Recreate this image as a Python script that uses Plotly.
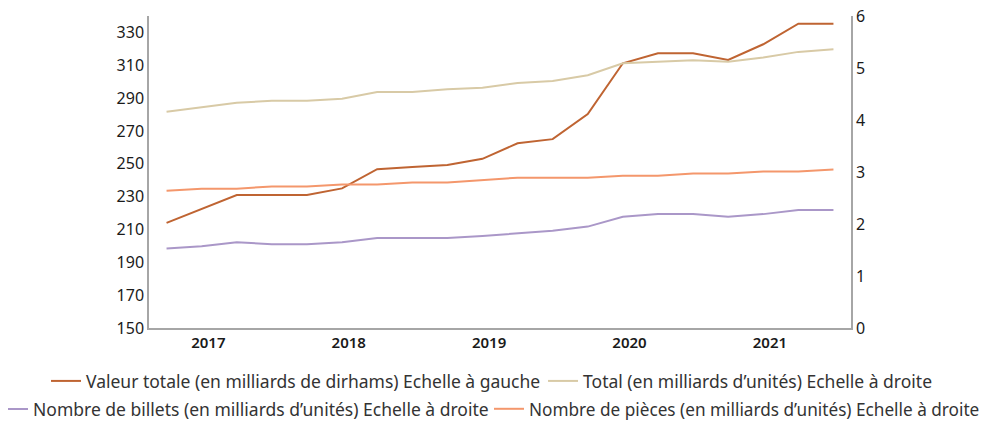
import plotly.graph_objects as go

quarters = ["T4 2016", "T1 2017", "T2 2017", "T3 2017", "T4 2017",
            "T1 2018", "T2 2018", "T3 2018", "T4 2018",
            "T1 2019", "T2 2019", "T3 2019", "T4 2019",
            "T1 2020", "T2 2020", "T3 2020", "T4 2020",
            "T1 2021", "T2 2021", "T3 2021"]

valeur_totale = [214, 222.5, 231, 231, 231, 235, 246.7, 248, 249.3, 253,
                 262.5, 265, 280.3, 311.2, 317.3, 317.3, 313.2, 322.8, 335.3, 335.3]
total = [4.16, 4.25, 4.33, 4.37, 4.37, 4.41, 4.54, 4.54, 4.59, 4.62,
         4.71, 4.75, 4.86, 5.09, 5.12, 5.15, 5.12, 5.20, 5.31, 5.36]
billets = [1.53, 1.57, 1.65, 1.61, 1.61, 1.65, 1.73, 1.73, 1.73, 1.77,
           1.82, 1.87, 1.95, 2.14, 2.19, 2.19, 2.14, 2.19, 2.27, 2.27]
pieces = [2.64, 2.68, 2.68, 2.72, 2.72, 2.76, 2.76, 2.80, 2.80, 2.85,
          2.89, 2.89, 2.89, 2.93, 2.93, 2.97, 2.97, 3.01, 3.01, 3.05]

years = ["2017", "2018", "2019", "2020", "2021"]

x = list(range(len(quarters)))
# year labels sit a little after the first quarter of each year
year_pos = [quarters.index("T1 " + y) + 0.19 for y in years]

FONT = "Noto Sans"
AXIS_COLOR = "#A6A6A6"

series = [
    ("Valeur totale (en milliards de dirhams) Echelle à gauche", valeur_totale, "y", "#BF6432", "legend"),
    ("Total (en milliards d\u2019unités) Echelle à droite", total, "y2", "#D8CAA6", "legend2"),
    ("Nombre de billets (en milliards d\u2019unités) Echelle à droite", billets, "y2", "#AA97C8", "legend3"),
    ("Nombre de pièces (en milliards d\u2019unités) Echelle à droite", pieces, "y2", "#F4976C", "legend4"),
]

fig = go.Figure()
for name, vals, yax, color, leg in series:
    fig.add_trace(go.Scatter(
        x=x, y=vals, mode="lines", yaxis=yax, name=name,
        line=dict(color=color, width=2), legend=leg, showlegend=True
    ))


def legend_box(xp, yp, size=17.5):
    return dict(
        orientation="h", x=xp, xanchor="left", y=yp, yanchor="middle",
        font=dict(size=size, color="#333333"), itemwidth=30,
        bgcolor="rgba(0,0,0,0)", visible=True,
    )


fig.update_layout(
    width=990, height=421,
    showlegend=True,
    # the page body adds 8px on the left and top
    margin=dict(l=141, r=147, t=8, b=101, autoexpand=False),
    plot_bgcolor="white", paper_bgcolor="white",
    font=dict(family=FONT, size=16, color="#1a1a1a"),
    xaxis=dict(
        range=[-0.5, 19.5], tickvals=year_pos, ticktext=years,
        showgrid=False, zeroline=False, showline=True,
        linecolor=AXIS_COLOR, linewidth=1.5, ticks="",
        tickfont=dict(size=15, color="#1a1a1a", weight=600),
    ),
    yaxis=dict(
        range=[150, 340], tickvals=list(range(150, 331, 20)),
        showgrid=False, zeroline=False, showline=True,
        linecolor=AXIS_COLOR, linewidth=1.5, ticks="",
        ticklabeloverflow="allow",
    ),
    yaxis2=dict(
        range=[0, 6], dtick=1, overlaying="y", side="right",
        showgrid=False, zeroline=False, showline=True,
        linecolor=AXIS_COLOR, linewidth=1.5, ticks="",
        ticklabeloverflow="allow",
    ),
    legend=legend_box(-0.1467, -0.170),
    legend2=legend_box(0.5613, -0.170),
    legend3=legend_box(-0.2222, -0.260),
    legend4=legend_box(0.4843, -0.260, 17.2),
)

fig.write_html("out.html")
